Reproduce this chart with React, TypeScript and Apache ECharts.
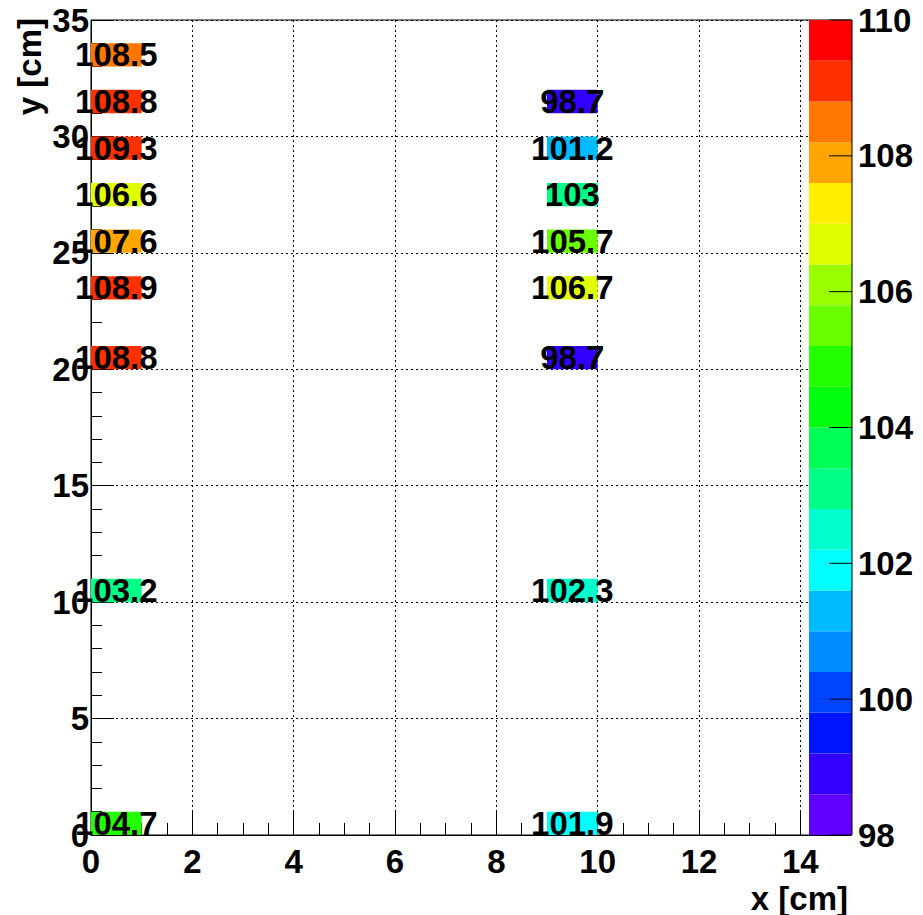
import React, { useEffect, useRef } from "react";
import * as echarts from "echarts";

// Histogram bins (lower edges, width 1 cm) and contents
const leftX = 0;
const rightX = 9;
const leftYBins = [0, 10, 20, 23, 25, 27, 29, 31, 33];
const leftValues = [104.7, 103.2, 108.8, 108.9, 107.6, 106.6, 109.3, 108.8, 108.5];
const rightYBins = [0, 10, 20, 23, 25, 27, 29, 31];
const rightValues = [101.9, 102.3, 98.7, 106.7, 105.7, 103, 101.2, 98.7];

// Z scale / palette (20 contour levels between 98 and 110)
const zMin = 98;
const zMax = 110;
const nLevels = 20;
const zTicks = [98, 100, 102, 104, 106, 108, 110];
const paletteColors = [
  "#6200FF", "#3300FF", "#0014FF", "#0044FF", "#008BFF",
  "#00BBFF", "#00FFFC", "#00FFCC", "#00FF85", "#00FF55",
  "#00FF0E", "#22FF00", "#69FF00", "#99FF00", "#E0FF00",
  "#FFEE00", "#FFA700", "#FF7700", "#FF3000", "#FF0000",
];

const FONT = '"Liberation Sans", Arial, Helvetica, sans-serif';

function levelOf(v: number): number {
  const k = Math.floor(0.01 + ((v - zMin) / (zMax - zMin)) * nLevels);
  return Math.max(0, Math.min(nLevels - 1, k));
}

export default function App() {
  const ref = useRef<HTMLDivElement>(null);

  useEffect(() => {
    if (!ref.current) return;
    const chart = echarts.init(ref.current, undefined, { renderer: "svg" });

    const cellData: number[][] = [];
    leftYBins.forEach((y, i) => cellData.push([leftX, y, leftValues[i]]));
    rightYBins.forEach((y, i) => cellData.push([rightX, y, rightValues[i]]));

    const step = (zMax - zMin) / nLevels;
    const bandData = paletteColors.map((_, k) => [zMin + k * step, zMin + (k + 1) * step, k]);

    const labelStyle = {
      color: "#000",
      fontFamily: FONT,
      fontWeight: "bold" as const,
      fontSize: 33,
    };

    chart.setOption({
      animation: false,
      backgroundColor: "#fff",
      grid: [
        {
          left: 91,
          top: 20,
          width: 760,
          height: 815,
          show: true,
          borderColor: "#000",
          borderWidth: 1,
          backgroundColor: "transparent",
        },
        { left: 809, top: 20, width: 43, height: 815 },
      ],
      xAxis: [
        {
          type: "value",
          gridIndex: 0,
          min: 0,
          max: 15,
          interval: 2,
          axisLine: { show: true, onZero: false, lineStyle: { color: "#000", width: 1 } },
          axisTick: { show: true, inside: true, length: 25, lineStyle: { color: "#000" } },
          minorTick: { show: true, splitNumber: 4, length: 12, lineStyle: { color: "#000" } },
          splitLine: { show: true, lineStyle: { color: "#000", type: [2, 3], width: 1 } },
          axisLabel: { ...labelStyle, margin: 10, showMaxLabel: false },
        },
        {
          type: "value",
          gridIndex: 1,
          min: 0,
          max: 1,
          show: false,
        },
      ],
      yAxis: [
        {
          type: "value",
          gridIndex: 0,
          min: 0,
          max: 35,
          interval: 5,
          axisLine: { show: true, onZero: false, lineStyle: { color: "#000", width: 1 } },
          axisTick: { show: true, inside: true, length: 23, lineStyle: { color: "#000" } },
          minorTick: { show: true, splitNumber: 5, length: 11, lineStyle: { color: "#000" } },
          splitLine: { show: true, lineStyle: { color: "#000", type: [2, 3], width: 1 } },
          axisLabel: { ...labelStyle, margin: 2 },
        },
        {
          type: "value",
          gridIndex: 1,
          position: "right",
          min: zMin,
          max: zMax,
          interval: 2,
          axisLine: { show: false, onZero: false },
          axisTick: { show: false },
          splitLine: { show: false },
          axisLabel: { ...labelStyle, margin: 6 },
        },
      ],
      series: [
        {
          type: "custom",
          xAxisIndex: 0,
          yAxisIndex: 0,
          data: cellData,
          z: 3,
          renderItem: (params: any, api: any) => {
            const x = api.value(0);
            const y = api.value(1);
            const v = api.value(2);
            const p0 = api.coord([x, y + 1]);
            const p1 = api.coord([x + 1, y]);
            return {
              type: "group",
              children: [
                {
                  type: "rect",
                  shape: { x: p0[0], y: p0[1], width: p1[0] - p0[0], height: p1[1] - p0[1] },
                  style: { fill: paletteColors[levelOf(v)] },
                },
                {
                  type: "text",
                  x: (p0[0] + p1[0]) / 2,
                  y: (p0[1] + p1[1]) / 2,
                  z2: 10,
                  style: {
                    text: String(v),
                    fill: "#000",
                    font: `bold 33px ${FONT}`,
                    align: "center",
                    verticalAlign: "middle",
                  },
                },
              ],
            };
          },
        },
        {
          type: "custom",
          xAxisIndex: 1,
          yAxisIndex: 1,
          data: bandData,
          z: 5,
          renderItem: (params: any, api: any) => {
            const lo = api.value(0);
            const hi = api.value(1);
            const k = api.value(2);
            const p0 = api.coord([0, hi]);
            const p1 = api.coord([1, lo]);
            return {
              type: "rect",
              shape: { x: p0[0], y: p0[1], width: p1[0] - p0[0], height: p1[1] - p0[1] },
              style: { fill: paletteColors[k] },
            };
          },
        },
        {
          // palette axis: right edge line and inward ticks
          type: "custom",
          xAxisIndex: 1,
          yAxisIndex: 1,
          data: zTicks.map((t) => [t]),
          z: 6,
          renderItem: (params: any, api: any) => {
            const t = api.value(0);
            const p = api.coord([1, t]);
            const children: any[] = [
              {
                type: "line",
                shape: { x1: p[0] - 23, y1: p[1], x2: p[0], y2: p[1] },
                style: { stroke: "#000", lineWidth: 1 },
              },
            ];
            if (params.dataIndex === 0) {
              const top = api.coord([1, zMax]);
              children.push({
                type: "line",
                shape: { x1: p[0], y1: p[1], x2: top[0], y2: top[1] },
                style: { stroke: "#000", lineWidth: 1 },
              });
            }
            return { type: "group", children };
          },
        },
      ],
      graphic: [
        {
          type: "text",
          x: 848,
          y: 898,
          style: {
            text: "x [cm]",
            fill: "#000",
            font: `bold 33px ${FONT}`,
            align: "right",
            verticalAlign: "middle",
          },
        },
        {
          type: "text",
          x: 29,
          y: 18,
          rotation: Math.PI / 2,
          style: {
            text: "y [cm]",
            fill: "#000",
            font: `bold 33px ${FONT}`,
            align: "right",
            verticalAlign: "middle",
          },
        },
      ],
    });

    return () => chart.dispose();
  }, []);

  return (
    <div
      ref={ref}
      style={{ position: "fixed", left: 0, top: 0, width: 923, height: 915 }}
    />
  );
}
